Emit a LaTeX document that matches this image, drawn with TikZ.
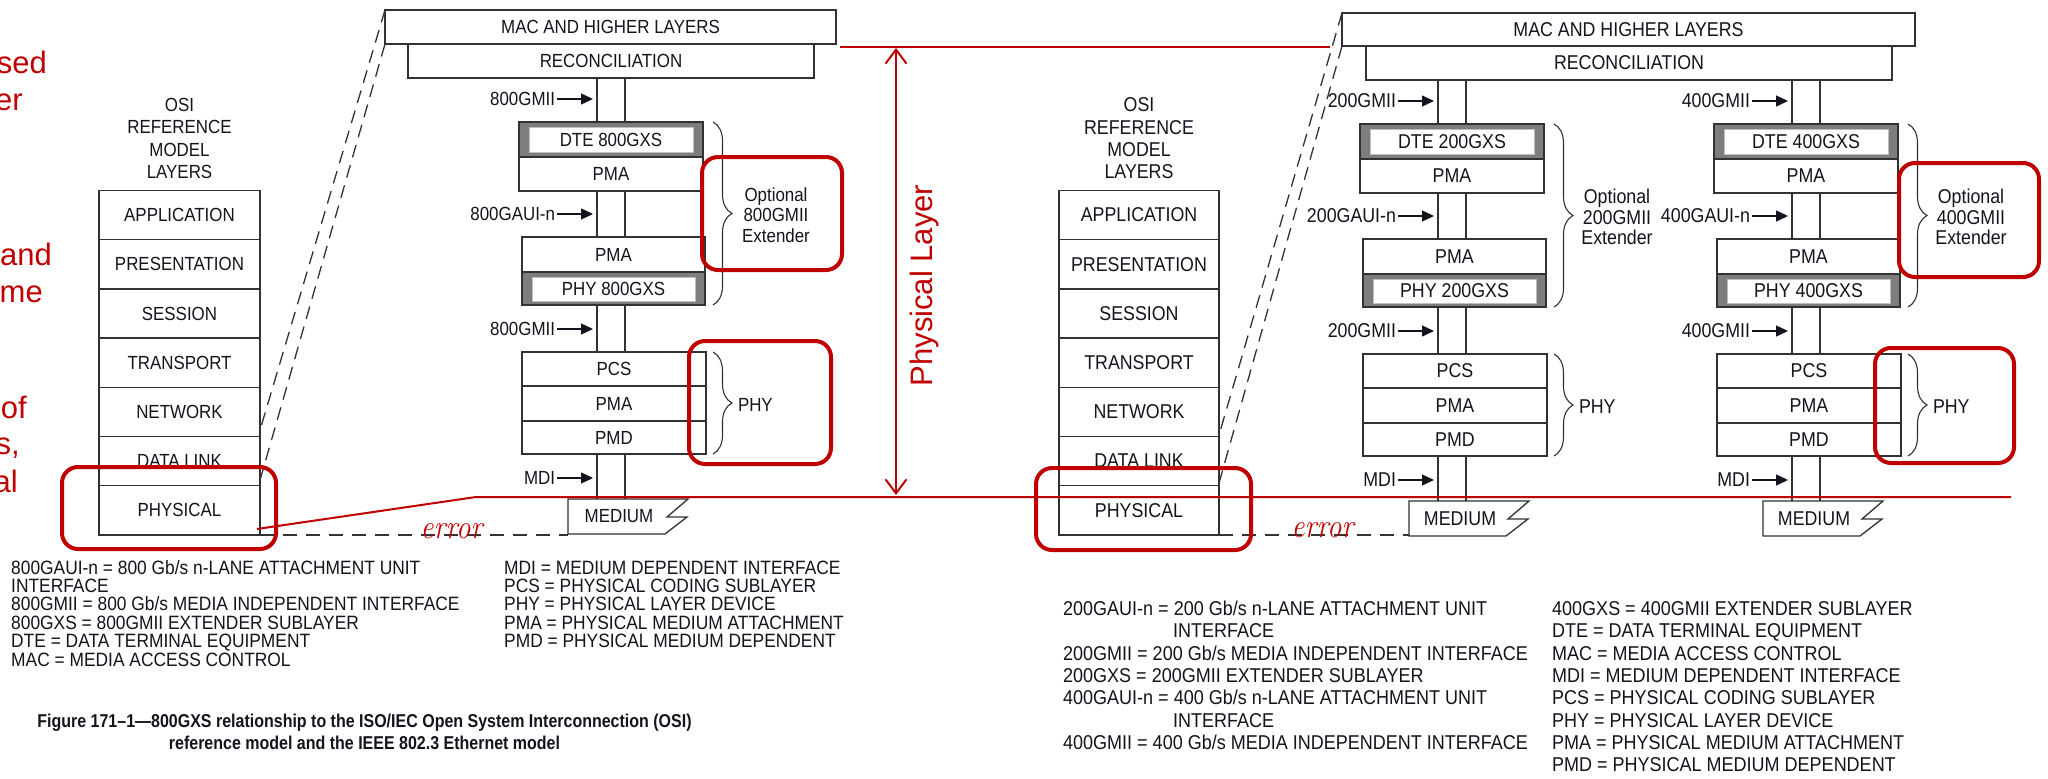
\documentclass[tikz,border=0pt]{standalone}
\usepackage{fontspec}
\usepackage{graphicx}
\newfontfamily\arial{Liberation Sans}
\newfontfamily\arialn{Liberation Sans}[FakeStretch=0.89]
\newfontfamily\arialL{Liberation Sans}[FakeStretch=0.9]
\newfontfamily\arialC{Liberation Sans}[FakeStretch=0.86]
\usetikzlibrary{arrows.meta,decorations.pathreplacing}
\definecolor{ered}{RGB}{192,0,0}
\definecolor{lcol}{RGB}{50,50,50}
\definecolor{band}{RGB}{125,125,125}
\definecolor{txt}{RGB}{20,20,30}
\tikzset{
  lbl/.style={font=\arialn\fontsize{19}{20.5}\selectfont, text=txt, inner sep=0pt, outer sep=0pt},
  lblR/.style={font=\arialn\fontsize{20}{20.5}\selectfont, text=txt, inner sep=0pt, outer sep=0pt},
  box/.style={draw=lcol, line width=1.3pt, inner sep=0pt, outer sep=0pt},
  ifline/.style={draw=lcol, line width=1.3pt},
  larr/.style={draw=txt, line width=1.3pt, -{Triangle[length=12pt,width=11pt]}},
  brc/.style={draw=lcol, line width=1.1pt, decorate, decoration={brace, amplitude=19pt}},
  dsh/.style={draw=lcol, line width=1.3pt, dash pattern=on 13pt off 8pt},
  redbox/.style={draw=ered, line width=4pt, rounded corners=16pt},
  redln/.style={draw=ered, line width=2pt},
  redtxt/.style={font=\arial\fontsize{31}{37}\selectfont, text=ered, inner sep=0pt},
  errtxt/.style={font=\normalfont\itshape\fontsize{34}{34}\selectfont, text=ered, inner sep=0pt},
  leg/.style={font=\arialL\fontsize{19.3}{18}\selectfont, text=txt, inner sep=0pt, anchor=base west},
  legR/.style={font=\arialL\fontsize{20}{18}\selectfont, text=txt, inner sep=0pt, anchor=base west},
}
% #1 L, #2 dy, #3 prefix, #4 speed, #5 text style, #6 recon node
\newcommand{\gstack}[6]{%
\begin{scope}[shift={(#1,#2)}, stxt/.style={#5}]
 \coordinate (#3ia) at (78,0); \coordinate (#3ib) at (106,0);
 \node[box, fill=band, minimum width=184pt, minimum height=35pt] (#3dteo) at (92,139.5) {};
 \node[stxt, fill=white, draw=black!25, line width=.6pt, minimum width=164pt, minimum height=25pt] (#3dte) at (92,139.5) {DTE #4GXS};
 \node[box, stxt, minimum width=184pt, minimum height=34pt] (#3pma) at (92,174) {PMA};
 \node[box, stxt, minimum width=183pt, minimum height=35pt] (#3pmb) at (94.5,254.5) {PMA};
 \node[box, fill=band, minimum width=183pt, minimum height=33pt] (#3phyo) at (94.5,288.5) {};
 \node[stxt, fill=white, draw=black!25, line width=.6pt, minimum width=163pt, minimum height=24pt] (#3phy) at (94.5,289) {PHY #4GXS};
 \node[box, stxt, minimum width=184pt, minimum height=34pt] (#3pcs) at (95,369) {PCS};
 \node[box, stxt, minimum width=184pt, minimum height=35pt] (#3pmc) at (95,403.5) {PMA};
 \node[box, stxt, minimum width=184pt, minimum height=33pt] (#3pmd) at (95,437.5) {PMD};
 \node[minimum width=120pt, minimum height=35pt, inner sep=0pt, outer sep=0pt] (#3med) at (109,516.5) {};
 \draw[ifline] (#3med.north west) -- (#3med.north east) -- (148,517) -- (168,517) -- (146,534) -- (#3med.south west) -- cycle;
 \node[stxt] (#3medt) at (100,516.5) {MEDIUM};
 \foreach \c in {a,b} {
  \draw[ifline] (#6.south -| #3i\c) -- (#3dteo.north -| #3i\c);
  \draw[ifline] (#3pma.south -| #3i\c) -- (#3pmb.north -| #3i\c);
  \draw[ifline] (#3phyo.south -| #3i\c) -- (#3pcs.north -| #3i\c);
  \draw[ifline] (#3pmd.south -| #3i\c) -- (#3med.north -| #3i\c);
 }
 \node[stxt, anchor=east] (#3la) at (36,99) {#4GMII};
 \node[stxt, anchor=east] (#3lb) at (36,214) {#4GAUI-n};
 \node[stxt, anchor=east] (#3lc) at (36,329) {#4GMII};
 \node[stxt, anchor=east] (#3ld) at (36,478) {MDI};
 \coordinate (#3ta) at (74,99); \coordinate (#3tb) at (74,214);
 \coordinate (#3tc) at (74,329); \coordinate (#3td) at (74,478);
 \foreach \c in {a,b,c,d} \draw[larr] ([xshift=2pt]#3l\c.east) -- (#3t\c);
 \coordinate (#3b1) at (194,122); \coordinate (#3b2) at (194,305);
 \coordinate (#3b3) at (194,352); \coordinate (#3b4) at (194,454);
 \draw[brc] (#3b1) -- (#3b2);
 \draw[brc] (#3b3) -- (#3b4);
 \node[stxt, align=center] (#3opt) at (257,215) {Optional\\#4GMII\\Extender};
 \node[stxt, anchor=west] (#3phyl) at (219,405) {PHY};
\end{scope}}
% #1 center x, #2 prefix, #3 font size, #4 width
\newcommand{\osistack}[4]{%
 \node[font=\arialn\fontsize{#3}{22.3}\selectfont, text=txt, inner sep=0pt, align=center] (#2title) at (#1,138.5) {OSI\\REFERENCE\\MODEL\\LAYERS};
 \foreach \t [count=\i from 0] in {APPLICATION,PRESENTATION,SESSION,TRANSPORT,NETWORK,DATA LINK,PHYSICAL}
  \node[box, font=\arialn\fontsize{#3}{20}\selectfont, text=txt, minimum width=#4pt, minimum height=49.2pt] (#2r\i) at (#1,{215.1+49.2*\i}) {\t};
}
\begin{document}
\begin{tikzpicture}[x=1pt,y=-1pt]
\useasboundingbox (0,0) rectangle (2048,779);
\fill[white] (0,0) rectangle (2048,779);

% ---------- left diagram
\node[box, lbl, minimum width=451pt, minimum height=34pt] (mac1) at (610.5,27) {MAC AND HIGHER LAYERS};
\node[box, lbl, minimum width=406pt, minimum height=34pt] (rec1) at (611,61) {RECONCILIATION};
\gstack{519}{0}{s8}{800}{lbl}{rec1}
\osistack{179.5}{o1}{19}{161}

% ---------- right diagram
\node[box, lblR, minimum width=573pt, minimum height=33pt] (mac2) at (1628.5,29.5) {MAC AND HIGHER LAYERS};
\node[box, lblR, minimum width=526pt, minimum height=34pt] (rec2) at (1629,63) {RECONCILIATION};
\gstack{1360}{2}{s2}{200}{lblR}{rec2}
\gstack{1714}{2}{s4}{400}{lblR}{rec2}
\osistack{1139}{o2}{20}{160}

% ---------- dashed projection lines
\draw[dsh] (mac1.north west) -- ([yshift=31pt]o1r5.east);
\draw[dsh] (mac1.south west) -- ([yshift=-19pt]o1r5.east);
\draw[dsh] (mac2.north west) -- ([yshift=26pt]o2r5.east);
\draw[dsh] (mac2.south west) -- ([yshift=-22pt]o2r5.east);
\draw[dsh, dash pattern=on 14pt off 9pt] (o1r6.south east) -- (o1r6.south east -| s8med.south west);
\draw[dsh, dash pattern=on 14pt off 9pt] (o2r6.south east) -- (o2r6.south east -| s2med.south west);

% ---------- legends
\foreach \t [count=\i from 0] in {800GAUI-n = 800 Gb/s n-LANE ATTACHMENT UNIT, INTERFACE, 800GMII = 800 Gb/s MEDIA INDEPENDENT INTERFACE, 800GXS = 800GMII EXTENDER SUBLAYER, DTE = DATA TERMINAL EQUIPMENT, MAC = MEDIA ACCESS CONTROL}
  \node[leg] (lga\i) at (11,{574.3+18.34*\i}) {\t};
\foreach \t [count=\i from 0] in {MDI = MEDIUM DEPENDENT INTERFACE, PCS = PHYSICAL CODING SUBLAYER, PHY = PHYSICAL LAYER DEVICE, PMA = PHYSICAL MEDIUM ATTACHMENT, PMD = PHYSICAL MEDIUM DEPENDENT}
  \node[leg] (lgb\i) at (504,{574.3+18.34*\i}) {\t};
\node[legR] (lgc0) at (1063,615.4) {200GAUI-n = 200 Gb/s n-LANE ATTACHMENT UNIT};
\node[legR] (lgc1) at (1173,637.8) {INTERFACE};
\node[legR] (lgc2) at (1063,660.1) {200GMII = 200 Gb/s MEDIA INDEPENDENT INTERFACE};
\node[legR] (lgc3) at (1063,682.5) {200GXS = 200GMII EXTENDER SUBLAYER};
\node[legR] (lgc4) at (1063,704.9) {400GAUI-n = 400 Gb/s n-LANE ATTACHMENT UNIT};
\node[legR] (lgc5) at (1173,727.3) {INTERFACE};
\node[legR] (lgc6) at (1063,749.6) {400GMII = 400 Gb/s MEDIA INDEPENDENT INTERFACE};
\foreach \t [count=\i from 0] in {400GXS = 400GMII EXTENDER SUBLAYER, DTE = DATA TERMINAL EQUIPMENT, MAC = MEDIA ACCESS CONTROL, MDI = MEDIUM DEPENDENT INTERFACE, PCS = PHYSICAL CODING SUBLAYER, PHY = PHYSICAL LAYER DEVICE, PMA = PHYSICAL MEDIUM ATTACHMENT, PMD = PHYSICAL MEDIUM DEPENDENT}
  \node[legR] (lgd\i) at (1552,{615.4+22.37*\i}) {\t};

% ---------- caption
\node[font=\arialC\bfseries\fontsize{18.6}{21}\selectfont, text=txt, inner sep=0pt, anchor=base] (cap1) at (364.5,727) {Figure 171–1—800GXS relationship to the ISO/IEC Open System Interconnection (OSI)};
\node[font=\arialC\bfseries\fontsize{18.6}{21}\selectfont, text=txt, inner sep=0pt, anchor=base] (cap2) at (364.5,749) {reference model and the IEEE 802.3 Ethernet model};

% ---------- red annotations
\draw[redbox] (62,467) rectangle (276,549);
\draw[redbox] (702,157) rectangle (842,270);
\draw[redbox] (689,341) rectangle (831,464);
\draw[redbox] (1036,468) rectangle (1251,550);
\draw[redbox] (1899,163) rectangle (2039,277);
\draw[redbox] (1875,348) rectangle (2014,463);
\draw[redln] (840,47) -- (1330,47);
\draw[redln] (257,529) -- (476,497) -- (2011,497);
\coordinate (pa) at (896,48); \coordinate (pb) at (896,495);
\draw[redln, {Straight Barb[length=14pt,width=21pt]}-{Straight Barb[length=14pt,width=21pt]}] (pa) -- (pb);
\node[redtxt, rotate=90] (pl) at (924,285.5) {Physical Layer};
\node[errtxt] (e1) at (451.5,531) {\scalebox{0.85}[1]{error}};
\node[errtxt] (e2) at (1322.5,530) {\scalebox{0.85}[1]{error}};
\node[redtxt, anchor=base east] (f1) at (47,73) {sed};
\node[redtxt, anchor=base east] (f2) at (23,110) {er};
\node[redtxt, anchor=base east] (f3) at (52,265) {and};
\node[redtxt, anchor=base east] (f4) at (43,302) {me};
\node[redtxt, anchor=base east] (f5) at (27,418) {of};
\node[redtxt, anchor=base east] (f6) at (20,454) {s,};
\node[redtxt, anchor=base east] (f7) at (18,492) {al};
\end{tikzpicture}
\end{document}
